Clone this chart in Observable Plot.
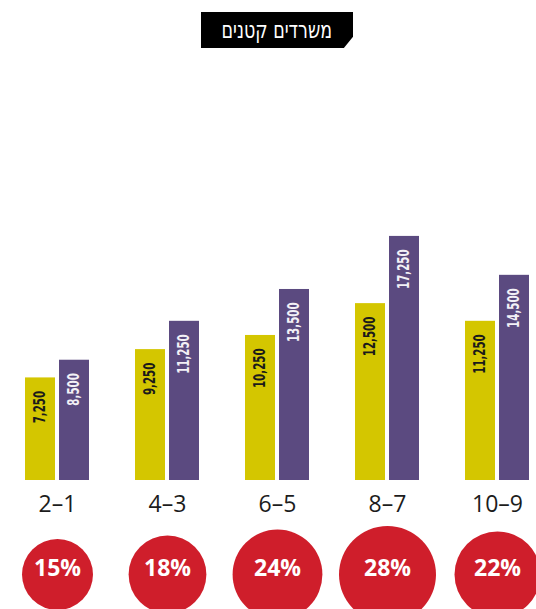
<!DOCTYPE html>
<html>
<head>
<meta charset="utf-8">
<script src="https://cdn.jsdelivr.net/npm/d3@7"></script>
<script src="https://cdn.jsdelivr.net/npm/@observablehq/plot@0.6"></script>
<style>
  html, body { margin: 0; padding: 0; background: #fff; }
  #wrap { width: 536px; }
  #title { position: relative; height: 60px; }
  #title div {
    position: absolute; left: 201px; top: 12px; width: 152px; height: 36px;
    background: #000; color: #fff;
    clip-path: polygon(0 0, 100% 0, 100% 69%, 94% 100%, 0 100%);
    font-family: "DejaVu Sans Condensed", sans-serif;
    font-size: 22px; line-height: 36px; text-align: center;
  }
  #title span { display: inline-block; transform: scale(0.88, 1.08); }
  #chart svg { display: block; }
</style>
</head>
<body>
<div id="wrap">
  <div id="title"><div dir="rtl"><span></span></div></div>
  <div id="chart"></div>
</div>
<script>
const titleText = "משרדים קטנים";
const categories = ["2–1", "4–3", "6–5", "8–7", "10–9"];
const yellowValues = [7250, 9250, 10250, 12500, 11250];
const purpleValues = [8500, 11250, 13500, 17250, 14500];
const shares = [15, 18, 24, 28, 22];

document.querySelector("#title span").textContent = titleText;

const yellow = categories.map((c, i) => ({category: c, value: yellowValues[i]}));
const purple = categories.map((c, i) => ({category: c, value: purpleValues[i]}));
const circles = categories.map((c, i) => ({category: c, share: shares[i]}));

const fmt = d3.format(",");
const narrow = "'DejaVu Sans Condensed', sans-serif";
const YEL = "#d4c600", PUR = "#5b4a80", RED = "#cf1e2b";

const chart = Plot.plot({
  width: 536,
  height: 549,
  marginTop: 137,
  marginBottom: 129,
  marginLeft: 0,
  marginRight: 0,
  x: {type: "band", domain: categories, range: [2, 552], paddingInner: 0.41818, paddingOuter: 0.20909, axis: null},
  y: {domain: [0, 20000], axis: null},
  r: {domain: [0, 28], range: [0, 48.5]},
  marks: [
    Plot.barY(yellow, {x: "category", y: "value", fill: YEL, insetRight: 34}),
    Plot.barY(purple, {x: "category", y: "value", fill: PUR, insetLeft: 34}),
    Plot.text(yellow, {x: "category", y: "value", text: d => fmt(d.value), rotate: -90,
      textAnchor: "end", lineAnchor: "middle", dx: -17, dy: 13, className: "barlabel",
      fill: "#1a1a1a", fontWeight: "bold", fontFamily: narrow, fontSize: 15}),
    Plot.text(purple, {x: "category", y: "value", text: d => fmt(d.value), rotate: -90,
      textAnchor: "end", lineAnchor: "middle", dx: 17, dy: 13, className: "barlabel",
      fill: "#f2f0f6", fontWeight: "bold", fontFamily: narrow, fontSize: 15}),
    Plot.axisX({tickSize: 0, tickPadding: 15, fontSize: 23, fontFamily: "'Open Sans', sans-serif",
      color: "#1c1c1c", label: null}),
    Plot.dot(circles, {x: "category", r: "share", fill: RED, frameAnchor: "bottom", dy: 94}),
    Plot.text(circles, {x: "category", text: d => d.share + "%", frameAnchor: "bottom", dy: 95,
      fill: "#fff", fontSize: 23, fontWeight: "bold", fontFamily: "'Open Sans', sans-serif"})
  ]
});
document.getElementById("chart").appendChild(chart);
d3.select(chart).selectAll(".barlabel text").attr("transform", function () {
  return (this.getAttribute("transform") || "") + " scale(0.76,1)";
});
</script>
</body>
</html>
